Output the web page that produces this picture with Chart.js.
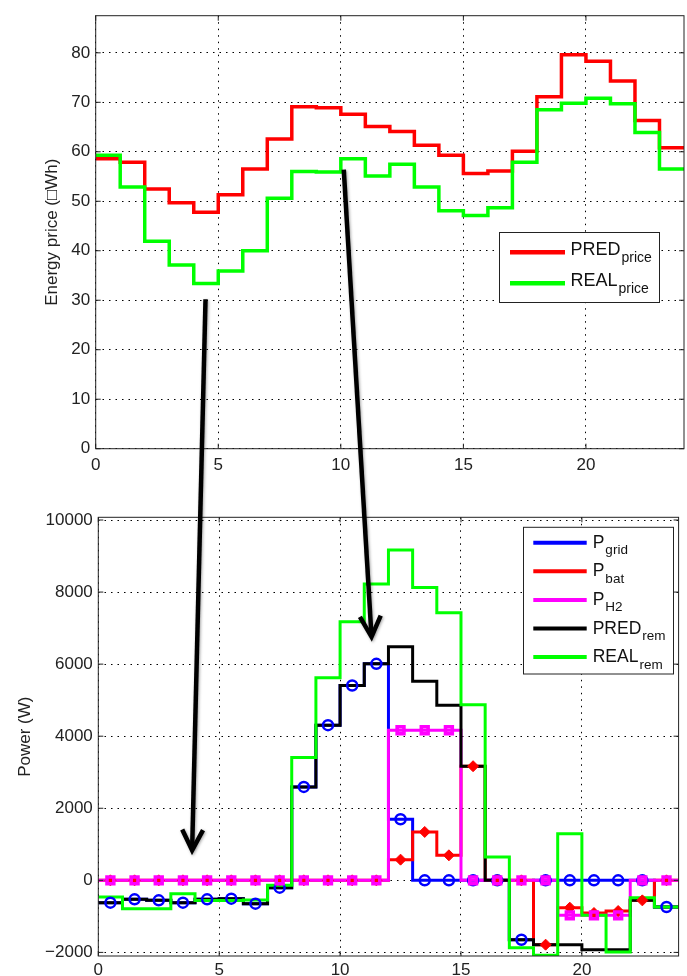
<!DOCTYPE html>
<html>
<head>
<meta charset="utf-8">
<script src="https://cdn.jsdelivr.net/npm/chart.js@4/dist/chart.umd.min.js"></script>
<style>
  html, body { margin: 0; padding: 0; background: #fff; }
  #wrap { position: relative; width: 687px; height: 976px; overflow: hidden; }
  #priceChart { position: absolute; left: 0; top: 0; }
  #powerChart { position: absolute; left: 0; top: 488px; }
  #arrows { position: absolute; left: 0; top: 0; pointer-events: none; }
</style>
</head>
<body>
<div id="wrap">
  <canvas id="priceChart" width="687" height="488"></canvas>
  <canvas id="powerChart" width="687" height="488"></canvas>
  <canvas id="arrows" width="687" height="976"></canvas>
</div>
<script>
// ---- data (one value per hour, held from h to h+1) ----
const hours = [0, 1, 2, 3, 4, 5, 6, 7, 8, 9, 10, 11, 12, 13, 14, 15, 16, 17, 18, 19, 20, 21, 22, 23];
const hourEnd = 24;

const predPrice = [58.6, 57.9, 52.5, 49.7, 47.8, 51.3, 56.5, 62.6, 69.1, 68.9, 67.6, 65.1,
                   64.1, 61.3, 59.3, 55.6, 56.1, 60.1, 71.1, 79.6, 78.3, 74.3, 66.3, 60.8];
const realPrice = [59.3, 52.9, 41.9, 37.1, 33.4, 35.9, 40.0, 50.6, 56.0, 55.9, 58.6, 55.1,
                   57.5, 52.9, 48.1, 47.1, 48.7, 57.9, 68.5, 69.8, 70.8, 69.7, 63.9, 56.5];

const pGrid   = [-620, -528, -556, -620, -528, -509, -648, -204, 2593, 4306, 5407, 6009,
                 1694, 0, 0, 0, 0, -1648, 0, 0, 0, 0, 0, -741];
const pBat    = [0, 0, 0, 0, 0, 0, 0, 0, 0, 0, 0, 0,
                 574, 1343, 694, 3167, 0, 0, -1786, -759, -907, -852, -556, 0];
const pH2     = [0, 0, 0, 0, 0, 0, 0, 0, 0, 0, 0, 0,
                 4167, 4167, 4167, 0, 0, 0, 0, -972, -972, -972, 0, 0];
const predRem = [-620, -528, -556, -620, -528, -509, -648, -204, 2593, 4306, 5407, 6009,
                 6481, 5528, 4861, 3167, 0, -1648, -1786, -1786, -1925, -1925, -556, -741];
const realRem = [-463, -787, -787, -370, -560, -560, -545, -139, 3408, 5620, 7175, 8222,
                 9167, 8130, 7425, 4870, 648, -1870, -2080, 1296, -972, -1990, -481, -741];

// ---- axes ----
const xTicks = [0, 5, 10, 15, 20];
const xTickLabels = ['0', '5', '10', '15', '20'];
const priceTicks = [0, 10, 20, 30, 40, 50, 60, 70, 80];
const priceTickLabels = ['0', '10', '20', '30', '40', '50', '60', '70', '80'];
const powerTicks = [-2000, 0, 2000, 4000, 6000, 8000, 10000];
const powerTickLabels = ['\u22122000', '0', '2000', '4000', '6000', '8000', '10000'];

// ---- legends ----
const priceLegendColors = ['#ff0000', '#00ff00'];
const priceLegendMain = ['PRED', 'REAL'];
const priceLegendSub = ['price', 'price'];
const powerLegendColors = ['#0000ff', '#ff0000', '#ff00ff', '#000000', '#00ff00'];
const powerLegendMain = ['P', 'P', 'P', 'PRED', 'REAL'];
const powerLegendSub = ['grid', 'bat', 'H2', 'rem', 'rem'];

const FONT = '"Liberation Sans", Arial, Helvetica, sans-serif';
const INK = '#222';

// stairs: point at every hour start plus the closing point at hourEnd
function stairs(vals) {
    const pts = hours.map((h, i) => ({ x: h, y: vals[i] }));
    pts.push({ x: hourEnd, y: vals[vals.length - 1] });
    return pts;
}
// markers sit in the middle of each hour
function mids(vals) {
    return hours.map((h, i) => ({ x: h + 0.5, y: vals[i] }));
}

// frame with inward tick marks (MATLAB look) + legend with subscripts
const framePlugin = {
    id: 'frameAndLegend',
    afterDraw(chart, args, opts) {
        const ctx = chart.ctx;
        const a = chart.chartArea;
        const xs = chart.scales.x, ys = chart.scales.y;
        ctx.save();
        ctx.strokeStyle = INK;
        ctx.lineWidth = 1;
        ctx.setLineDash([]);
        ctx.strokeRect(a.left, a.top, a.right - a.left, a.bottom - a.top);
        const tl = 5;
        ctx.beginPath();
        xs.ticks.forEach(t => {
            const px = xs.getPixelForValue(t.value);
            ctx.moveTo(px, a.bottom); ctx.lineTo(px, a.bottom - tl);
            ctx.moveTo(px, a.top); ctx.lineTo(px, a.top + tl);
        });
        ys.ticks.forEach(t => {
            const py = ys.getPixelForValue(t.value);
            ctx.moveTo(a.left, py); ctx.lineTo(a.left + tl, py);
            ctx.moveTo(a.right, py); ctx.lineTo(a.right - tl, py);
        });
        ctx.stroke();

        // legend
        const L = opts.legend;
        if (L) {
            ctx.fillStyle = '#fff';
            ctx.fillRect(L.x, L.y, L.w, L.h);
            ctx.strokeStyle = INK;
            ctx.lineWidth = 1;
            ctx.strokeRect(L.x, L.y, L.w, L.h);
            L.colors.forEach((c, i) => {
                const ry = L.row0 + i * L.rowGap;
                ctx.strokeStyle = c;
                ctx.lineWidth = L.lineW;
                ctx.beginPath();
                ctx.moveTo(L.lx0, ry);
                ctx.lineTo(L.lx1, ry);
                ctx.stroke();
                ctx.fillStyle = '#111';
                ctx.textBaseline = 'alphabetic';
                ctx.textAlign = 'left';
                ctx.font = L.mainSize + 'px ' + FONT;
                ctx.fillText(L.main[i], L.tx, ry + L.mainDy);
                const w = ctx.measureText(L.main[i]).width;
                ctx.font = L.subSize + 'px ' + FONT;
                ctx.fillText(L.sub[i], L.tx + w + 1, ry + L.subDy);
            });
        }
        ctx.restore();
    }
};

function xScale(height, pad) {
    return {
        type: 'linear', min: 0, max: hourEnd,
        afterBuildTicks: s => { s.ticks = xTicks.map(v => ({ value: v })); },
        afterFit: s => { s.height = height; },
        ticks: {
            autoSkip: false, maxRotation: 0, padding: pad, color: INK,
            font: { family: FONT, size: 17 },
            callback: (v) => xTickLabels[xTicks.indexOf(v)]
        },
        grid: { color: '#000', lineWidth: 1, drawTicks: false },
        border: { display: false, dash: [1.5, 5] }
    };
}

// ---- top chart: energy price ----
const priceChart = new Chart(document.getElementById('priceChart'), {
    type: 'line',
    data: {
        datasets: [
            { label: 'PRED price', data: stairs(predPrice), borderColor: '#ff0000', borderWidth: 3.5,
              stepped: 'before', pointRadius: 0, order: 2 },
            { label: 'REAL price', data: stairs(realPrice), borderColor: '#00ff00', borderWidth: 3.5,
              stepped: 'before', pointRadius: 0, order: 1 }
        ]
    },
    options: {
        responsive: false,
        animation: false,
        devicePixelRatio: 1,
        layout: { padding: { top: 6, right: 3, left: 0, bottom: 0 } },
        plugins: {
            legend: { display: false },
            tooltip: { enabled: false },
            frameAndLegend: {
                legend: {
                    x: 499.5, y: 232.5, w: 160, h: 70,
                    row0: 252.3, rowGap: 31, lx0: 510, lx1: 565, tx: 570.5, lineW: 4.5,
                    mainSize: 18, subSize: 14, mainDy: 3, subDy: 10,
                    colors: priceLegendColors, main: priceLegendMain, sub: priceLegendSub
                }
            }
        },
        scales: {
            x: xScale(39.3, 6),
            y: {
                min: 0, max: 87.5,
                afterBuildTicks: s => { s.ticks = priceTicks.map(v => ({ value: v })); },
                afterFit: s => { s.width = 95.7; },
                ticks: {
                    padding: 5.5, color: INK, font: { family: FONT, size: 17 },
                    callback: (v) => priceTickLabels[priceTicks.indexOf(v)]
                },
                grid: { color: '#000', lineWidth: 1, drawTicks: false },
                border: { display: false, dash: [1.5, 5] },
                title: {
                    display: true, text: 'Energy price (\u25A1Wh)', color: INK,
                    font: { family: FONT, size: 17 }, padding: { top: 42.5, bottom: 0 }
                }
            }
        }
    },
    plugins: [framePlugin]
});

// ---- bottom chart: power ----
const stepLine = (label, vals, color, order) => ({
    label: label, data: stairs(vals), borderColor: color, borderWidth: 3,
    stepped: 'before', pointRadius: 0, order: order
});

const powerChart = new Chart(document.getElementById('powerChart'), {
    type: 'line',
    data: {
        datasets: [
            stepLine('P grid', pGrid, '#0000ff', 10),
            stepLine('P bat', pBat, '#ff0000', 9),
            stepLine('P H2', pH2, '#ff00ff', 8),
            stepLine('PRED rem', predRem, '#000000', 7),
            stepLine('REAL rem', realRem, '#00ff00', 6),
            { label: 'grid marks', data: mids(pGrid), showLine: false, pointStyle: 'circle',
              pointRadius: 5, pointBorderWidth: 2.5, pointBorderColor: '#0000ff',
              pointBackgroundColor: 'rgba(0,0,0,0)', order: 3 },
            { label: 'bat marks', data: mids(pBat), showLine: false, pointStyle: 'rectRot',
              pointRadius: 5.5, pointBorderWidth: 1, pointBorderColor: '#ff0000',
              pointBackgroundColor: '#ff0000', order: 2 },
            { label: 'H2 marks', data: mids(pH2), showLine: false, pointStyle: 'rect',
              pointRadius: 4.8, pointBorderWidth: 3.6, pointBorderColor: '#ff00ff',
              pointBackgroundColor: 'rgba(0,0,0,0)', order: 1 }
        ]
    },
    options: {
        responsive: false,
        animation: false,
        devicePixelRatio: 1,
        layout: { padding: { top: 29.3, right: 5.3, left: 0, bottom: 0 } },
        plugins: {
            legend: { display: false },
            tooltip: { enabled: false },
            frameAndLegend: {
                legend: {
                    x: 523.5, y: 39.3, w: 150, h: 146.7,
                    row0: 54.7, rowGap: 28.6, lx0: 533.3, lx1: 586.7, tx: 592.7, lineW: 4,
                    mainSize: 17.5, subSize: 13.5, mainDy: 5, subDy: 11.5,
                    colors: powerLegendColors, main: powerLegendMain, sub: powerLegendSub
                }
            }
        },
        scales: {
            x: xScale(20, 4),
            y: {
                min: -2100, max: 10075,
                afterBuildTicks: s => { s.ticks = powerTicks.map(v => ({ value: v })); },
                afterFit: s => { s.width = 98.3; },
                ticks: {
                    padding: 5.5, color: INK, font: { family: FONT, size: 17 },
                    callback: (v) => powerTickLabels[powerTicks.indexOf(v)]
                },
                grid: { color: '#000', lineWidth: 1, drawTicks: false },
                border: { display: false, dash: [1.5, 5] },
                title: {
                    display: true, text: 'Power (W)', color: INK,
                    font: { family: FONT, size: 17 }, padding: { top: 14.8, bottom: 0 }
                }
            }
        }
    },
    plugins: [framePlugin]
});

// ---- arrows linking the two panels (anchored in data coordinates) ----
const arrowFrom = [[4.48, 30.2], [10.12, 56.4]];   // top chart (hour, price)
const arrowTo = [[3.88, 833], [11.3, 6759]];       // bottom chart (hour, power)

function drawArrows() {
    const ctx = document.getElementById('arrows').getContext('2d');
    const topOffset = 488;
    ctx.save();
    ctx.strokeStyle = '#000';
    ctx.lineWidth = 4.5;
    ctx.shadowColor = 'rgba(0,0,0,0.35)';
    ctx.shadowBlur = 3;
    ctx.shadowOffsetX = 1;
    ctx.shadowOffsetY = 1;
    arrowFrom.forEach((f, i) => {
        const t = arrowTo[i];
        const x0 = priceChart.scales.x.getPixelForValue(f[0]);
        const y0 = priceChart.scales.y.getPixelForValue(f[1]);
        const x1 = powerChart.scales.x.getPixelForValue(t[0]);
        const y1 = powerChart.scales.y.getPixelForValue(t[1]) + topOffset;
        const ang = Math.atan2(y1 - y0, x1 - x0);
        ctx.lineCap = 'butt';
        ctx.beginPath();
        ctx.moveTo(x0, y0);
        ctx.lineTo(x1 - Math.cos(ang) * 2, y1 - Math.sin(ang) * 2);
        ctx.stroke();
        const len = 23, spread = 0.47;
        ctx.lineJoin = 'miter';
        ctx.beginPath();
        ctx.moveTo(x1 - len * Math.cos(ang - spread), y1 - len * Math.sin(ang - spread));
        ctx.lineTo(x1, y1);
        ctx.lineTo(x1 - len * Math.cos(ang + spread), y1 - len * Math.sin(ang + spread));
        ctx.stroke();
    });
    ctx.restore();
}
drawArrows();
</script>
</body>
</html>
